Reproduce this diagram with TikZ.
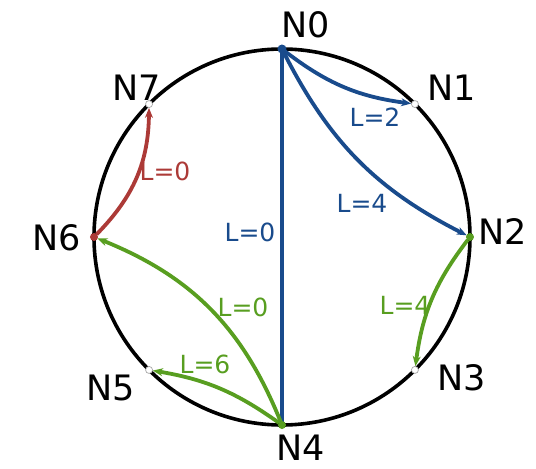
\documentclass[tikz,border=0pt]{standalone}
\usepackage{fontspec}
\setmainfont{DejaVu Sans}
\usetikzlibrary{arrows.meta}
\definecolor{eblue}{RGB}{25,75,140}
\definecolor{egreen}{RGB}{88,158,32}
\definecolor{ered}{RGB}{172,58,55}
\begin{document}
\begin{tikzpicture}[x=1pt,y=1pt,
  pt/.style={circle,inner sep=0pt,minimum size=7pt},
  hollow/.style={pt,draw=gray!70,line width=0.7pt,fill=white},
  dotc/.style={pt,fill=#1},
  lab/.style={inner sep=0pt,font=\fontsize{35}{37}\selectfont},
  elab/.style={inner sep=0pt,font=\fontsize{25}{27}\selectfont,text=#1},
  conn/.style={draw=#1,line width=3.8pt,-{Stealth[length=10pt,width=8pt]}}]
\useasboundingbox (-282,-232) rectangle (254,237);
\draw[line width=3.6pt] (0,0) circle (188);
% points
\node[dotc=eblue] (n0) at (90:188) {};
\node[hollow] (n1) at (45:188) {};
\node[dotc=egreen] (n2) at (0:188) {};
\node[hollow] (n3) at (-45:188) {};
\node[dotc=egreen] (n4) at (-90:188) {};
\node[hollow] (n5) at (-135:188) {};
\node[dotc=ered] (n6) at (180:188) {};
\node[hollow] (n7) at (135:188) {};
% connectors
\draw[conn=eblue] (n0) to[bend right=15] (n1);
\draw[conn=eblue] (n0) to[bend right=18] (n2);
\draw[conn=eblue,-,line width=3.4pt] (n0.center) -- (n4.center);
\draw[conn=egreen] (n2) to[bend right=15] (n3);
\draw[conn=egreen] (n4) to[bend right=23] (n6);
\draw[conn=egreen] (n4) to[bend right=13] (n5);
\draw[conn=ered] (n6) to[bend right=22] (n7);
\node[dotc=eblue,minimum size=9pt] at (n0) {};
\node[dotc=egreen,minimum size=8pt] at (n2) {};
\node[dotc=egreen,minimum size=8pt] at (n4) {};
\node[dotc=ered,minimum size=8pt] at (n6) {};
% node labels
\node[lab] (t0) at (24,212) {N0};
\node[lab] (t1) at (170,149) {N1};
\node[lab] (t2) at (221,5) {N2};
\node[lab] (t3) at (180,-141) {N3};
\node[lab] (t4) at (19,-211) {N4};
\node[lab] (t5) at (-171,-151) {N5};
\node[lab] (t6) at (-225,-1) {N6};
\node[lab] (t7) at (-145,149) {N7};
% connector labels
\node[elab=eblue] (l1) at (93,120) {L=2};
\node[elab=eblue] (l2) at (80,34) {L=4};
\node[elab=eblue] (l3) at (-32,5) {L=0};
\node[elab=egreen] (l4) at (123,-68) {L=4};
\node[elab=egreen] (l5) at (-39,-70) {L=0};
\node[elab=egreen] (l6) at (-77,-127) {L=6};
\node[elab=ered] (l7) at (-117,66) {L=0};
\end{tikzpicture}
\end{document}
